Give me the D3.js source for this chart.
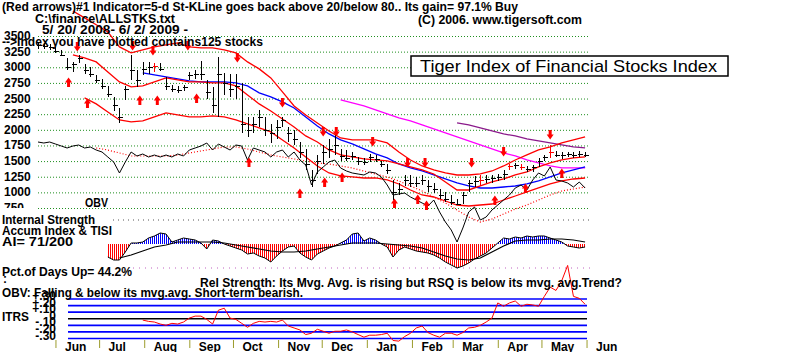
<!DOCTYPE html>
<html>
<head>
<meta charset="utf-8">
<script src="https://cdn.jsdelivr.net/npm/d3@7"></script>
<style>
body { margin: 0; background: #fff; }
svg { display: block; }
.lbl { font-family: "Liberation Sans", Arial, sans-serif; font-weight: bold; font-size: 12px; fill: #000; }
.ttl { font-family: "Liberation Sans", Arial, sans-serif; font-size: 17px; fill: #000; }
</style>
</head>
<body>
<script>
// chart runs 5/20/2008 - 6/2/2009, bars every 4 days, line samples every 8 days
var startDate = new Date(2008, 4, 20);
var endDate = new Date(2009, 5, 2);
var barStep = 4, lineStep = 8;

// price bars (high / low / close)
var highs = [3400,3390,3370,3330,3280,3150,3080,3200,3060,3000,
  2880,2820,2700,2530,2350,2700,3200,2960,3080,3090,
  3070,3070,2850,2720,2700,2720,2930,2960,3100,2800,
  2690,3160,2910,2900,2900,2750,2210,2200,2320,2200,
  2100,2150,2210,2050,2000,1800,1700,1350,1600,1750,
  1850,1950,1700,1680,1650,1560,1550,1620,1600,1500,
  1460,1200,1150,1280,1270,1250,1280,1200,1150,1050,
  1000,950,900,1000,1200,1260,1280,1270,1280,1300,
  1350,1460,1470,1450,1420,1440,1550,1600,1760,1660,
  1640,1650,1640,1660,1650];
var lows = [3300,3300,3280,3230,3180,2950,2930,3070,2900,2850,
  2750,2650,2530,2300,2110,2480,2800,2690,2880,2900,
  2930,2940,2640,2600,2590,2620,2800,2820,2800,2500,
  2270,2210,2550,2530,2500,1950,1890,1950,2050,1900,
  1790,1850,2050,1800,1750,1550,1350,1090,1300,1450,
  1550,1600,1500,1500,1520,1440,1430,1490,1480,1400,
  1300,880,950,1100,1090,1080,1120,1000,990,900,
  850,800,790,820,1000,1080,1100,1150,1150,1180,
  1200,1350,1380,1350,1320,1330,1400,1500,1550,1560,
  1540,1560,1550,1570,1560];
var closes = [3350,3340,3320,3260,3200,3000,3050,3150,2950,2900,
  2800,2700,2580,2400,2200,2650,2950,2800,2980,3000,
  3020,2980,2700,2650,2640,2680,2880,2900,2900,2600,
  2400,2900,2750,2650,2700,2100,2000,2100,2200,2000,
  1950,2050,2150,1950,1850,1650,1450,1200,1500,1650,
  1700,1750,1580,1550,1580,1500,1480,1560,1540,1450,
  1350,1000,1050,1200,1150,1150,1200,1100,1050,950,
  900,850,820,950,1150,1180,1200,1220,1230,1250,
  1300,1420,1430,1400,1370,1400,1500,1560,1650,1600,
  1590,1610,1600,1620,1600];
var redBars = [20, 76, 81, 83, 88];

// signal arrows: day offset from start, price level of arrow
var sellDays = [27, 65, 79, 103, 137, 168, 196, 205, 230, 254, 266, 298, 320, 352];
var sellLevels = [3326, 3342, 3262, 3342, 3150, 2430, 1966, 1966, 1806, 1470, 1470, 1470, 1646, 1918];
var buyDays = [21, 34, 70, 82, 109, 145, 180, 197, 209, 245, 261, 267, 314, 335, 360];
var buyLevels = [2766, 2430, 2478, 2478, 2510, 1486, 990, 1166, 1246, 830, 894, 798, 878, 1070, 1310];

// bands and moving averages (8-day samples, first sample index given)
var upperStart = 3;
var upperBand = [3900,3790,3680,3566,3326,3230,3278,3326,3358,3390,3326,3310,3310,3278,3230,3086,2974,2830,2606,2382,2238,2110,1982,1870,1838,1838,1838,1790,1646,1518,1422,1358,1310,1278,1278,1294,1342,1422,1518,1598,1678,1726,1790,1838,1886];
var midStart = 3;
var midBand = [3198,3150,3086,2926,2766,2686,2702,2766,2830,2798,2766,2766,2750,2750,2702,2558,2414,2302,2174,2046,1902,1806,1678,1598,1566,1534,1518,1502,1454,1406,1358,1294,1166,1038,1038,1102,1166,1214,1278,1326,1406,1470,1518,1550,1566];
var lowerStart = 4;
var lowerBand = [2510,2414,2286,2158,2126,2142,2206,2270,2238,2206,2206,2222,2206,2158,2094,2030,1966,1838,1710,1566,1422,1310,1262,1246,1230,1230,1198,1134,1038,958,926,862,798,782,798,814,878,942,1006,1070,1134,1182,1214,1230];
var blueStart = 9;
var blueMa = [2910,2878,2846,2814,2782,2766,2766,2766,2750,2702,2590,2526,2446,2350,2206,2062,1934,1838,1774,1694,1614,1550,1454,1390,1342,1278,1214,1150,1102,1070,1070,1086,1102,1134,1182,1246,1310,1358,1406];
var magentaStart = 26;
var magentaMa = [2478,2430,2382,2318,2254,2190,2142,2078,2014,1950,1886,1822,1758,1694,1630,1582,1518,1470,1422,1390,1390,1390];
var purpleStart = 36;
var purpleMa = [2110,2078,2030,1982,1934,1902,1854,1822,1790,1758,1726,1710];

// OBV (own scale, one value per bar) and its moving average
var obv = [103,102,103,101,99,97,99,100,97,98,
  95,93,88,83,72,83,93,89,91,88,
  90,88,90,88,91,89,95,97,99,102,
  95,101,98,95,100,99,85,97,95,93,
  88,93,95,88,93,85,80,60,73,78,
  83,85,77,74,72,71,70,73,72,68,
  60,50,51,52,48,45,42,39,45,33,
  23,15,3,17,33,38,25,28,35,40,
  45,50,57,60,55,65,72,69,78,65,
  64,62,58,63,57];
var obvMaStart = 5;
var obvMa = [97,95,92,89,89,89,89,90,92,94,96,98,98,96,93,90,88,86,84,82,81,79,77,74,71,68,64,59,54,48,42,35,28,23,26,31,36,40,45,50,54,56,58];

// Accumulation index (per bar from bar 12) and its average (8-day samples)
var aiStart = 12;
var aiVals = [-13,-16,-16,-8,1,1,2,6,8,11,
  10,2,4,6,5,4,1,-5,4,3,
  0,-2,-4,-6,-10,-9,-12,-14,-18,-12,
  -7,-3,-2,-9,-13,-16,-10,-7,-4,-2,
  1,4,10,11,3,6,4,0,-3,-13,
  -6,-3,-5,-7,-8,-9,-11,-14,-18,-21,
  -24,-22,-19,-15,-12,-9,-4,1,6,5,
  7,6,8,7,8,8,6,4,2,-2,
  -3,-4,-3];
var aiMaStart = 7;
var aiMa = [-14,-11,-7,-3,-1,2,2,2,2,1,-1,-3,-5,-7,-8,-8,-7,-5,-3,-1,1,1,1,0,-1,-2,-4,-8,-12,-15,-16,-14,-8,-2,3,4,4,5,5,4,2];

// ITRS relative strength (per bar from bar 18)
var itrsStart = 18;
var itrs = [-0.02,-0.04,-0.05,-0.08,-0.10,-0.07,-0.08,-0.05,0.01,0.04,
  0.04,-0.01,-0.08,0.13,0.16,0.01,-0.01,-0.07,-0.13,-0.07,
  -0.04,-0.05,-0.04,-0.05,-0.02,-0.11,-0.14,-0.17,-0.24,-0.22,
  -0.16,-0.19,-0.22,-0.19,-0.19,-0.17,-0.20,-0.24,-0.28,-0.25,
  -0.25,-0.24,-0.22,-0.33,-0.34,-0.27,-0.22,-0.14,-0.11,-0.21,
  -0.25,-0.28,-0.22,-0.22,-0.25,-0.21,-0.14,-0.13,-0.10,-0.05,
  0.01,0.24,0.19,0.24,0.27,0.19,0.22,0.21,0.19,0.34,
  0.48,0.43,0.58,0.81,0.34,0.31,0.22];

// tick labels
var priceLevels = [3500,3250,3000,2750,2500,2250,2000,1750,1500,1250,1000,750];
var itrsLevels = [0.3,0.2,0.1,0,-0.1,-0.2,-0.3];
var itrsLabels = ["+.30","+.20","+.10","0","-.10","-.20","-.30"];

// scales
var x = d3.scaleTime().domain([startDate, endDate]).range([38, 588]);
var yP = d3.scaleLinear().domain([750, 3500]).range([208, 36]);
var yObv = d3.scaleLinear().domain([0, 110]).range([245, 135]);
var yAi = d3.scaleLinear().domain([-30, 20]).range([274, 224]);
var yRs = d3.scaleLinear().domain([-0.3, 0.3]).range([338.5, 299]);

function barDate(i) { return d3.timeDay.offset(startDate, i * barStep); }
function barPts(vals, start) {
  return vals.map(function(v, j) { return {d: barDate(start + j), v: v}; });
}
function linePts(vals, start) {
  return vals.map(function(v, j) { return {d: d3.timeDay.offset(startDate, (start + j) * lineStep), v: v}; });
}

var svg = d3.select("body").append("svg").attr("width", 800).attr("height", 352);
svg.append("rect").attr("width", 800).attr("height", 352).attr("fill", "#fff");

var defs = svg.append("defs");
function stripes(id, col) {
  var p = defs.append("pattern").attr("id", id).attr("patternUnits", "userSpaceOnUse")
    .attr("width", 2).attr("height", 4);
  p.append("rect").attr("width", 1).attr("height", 4).attr("fill", col);
}
stripes("blueStripes", "#0000ff");
stripes("redStripes", "#ff0000");
defs.append("clipPath").attr("id", "aiUp").append("rect")
  .attr("x", 0).attr("y", 0).attr("width", 800).attr("height", yAi(0));
defs.append("clipPath").attr("id", "aiDown").append("rect")
  .attr("x", 0).attr("y", yAi(0)).attr("width", 800).attr("height", 352 - yAi(0));
defs.append("clipPath").attr("id", "priceCut").append("rect")
  .attr("x", 0).attr("y", 0).attr("width", 800).attr("height", 208);

// price grid (dotted green)
var grid = svg.append("g").attr("transform", "translate(38,0)")
  .call(d3.axisRight(yP).tickValues(priceLevels).tickSize(550).tickFormat(""));
grid.select(".domain").remove();
grid.selectAll("line").attr("stroke", "#1f8f1f").attr("stroke-dasharray", "1,2");

svg.selectAll(".plabel").data(priceLevels).enter().append("text")
  .attr("class", "lbl").attr("x", 4).attr("y", function(d) { return yP(d) + 4; })
  .attr("clip-path", "url(#priceCut)")
  .text(function(d) { return d; });

// separator dotted lines
svg.append("line").attr("x1", 113).attr("x2", 590).attr("y1", 220).attr("y2", 220)
  .attr("stroke", "#555").attr("stroke-dasharray", "1,4");
svg.append("line").attr("x1", 133).attr("x2", 590).attr("y1", 268).attr("y2", 268)
  .attr("stroke", "#c060c0").attr("stroke-dasharray", "1,5");

function drawLine(pts, yScale, color, width, dash) {
  svg.append("path").datum(pts)
    .attr("fill", "none").attr("stroke", color).attr("stroke-width", width)
    .attr("stroke-dasharray", dash || null)
    .attr("d", d3.line().x(function(d) { return x(d.d); }).y(function(d) { return yScale(d.v); }));
}

// bands, averages, OBV
drawLine(linePts(purpleMa, purpleStart), yP, "#8b1a8b", 1.3);
drawLine(linePts(magentaMa, magentaStart), yP, "#ff00ff", 1.3);
drawLine(linePts(blueMa, blueStart), yP, "#0000ff", 1.3);
drawLine(linePts(upperBand, upperStart), yP, "#ff0000", 1.3);
drawLine(linePts(midBand, midStart), yP, "#ff0000", 1.3);
drawLine(linePts(lowerBand, lowerStart), yP, "#ff0000", 1.3);
drawLine(linePts(obvMa, obvMaStart), yObv, "#ff0000", 1.2, "1,2");
drawLine(barPts(obv, 0), yObv, "#000", 1);

// price bars
var bars = svg.append("g").attr("shape-rendering", "crispEdges");
closes.forEach(function(c, i) {
  var bx = Math.round(x(barDate(i))) + 0.5;
  var col = redBars.indexOf(i) >= 0 ? "#ff0000" : "#000";
  bars.append("line").attr("x1", bx).attr("x2", bx)
    .attr("y1", yP(highs[i])).attr("y2", yP(lows[i])).attr("stroke", col);
  bars.append("line").attr("x1", bx - 2).attr("x2", bx + 3)
    .attr("y1", Math.round(yP(c)) + 0.5).attr("y2", Math.round(yP(c)) + 0.5).attr("stroke", col);
});

// arrows
function arrow(cx, cy, down) {
  var s = down ? 1 : -1;
  var p = "M" + (cx - 1.5) + "," + (cy - 5 * s) + "L" + (cx + 1.5) + "," + (cy - 5 * s) +
    "L" + (cx + 1.5) + "," + (cy - 0.5 * s) + "L" + (cx + 3.5) + "," + (cy - 0.5 * s) +
    "L" + cx + "," + (cy + 4.5 * s) + "L" + (cx - 3.5) + "," + (cy - 0.5 * s) +
    "L" + (cx - 1.5) + "," + (cy - 0.5 * s) + "Z";
  svg.append("path").attr("d", p).attr("fill", "#ff0000");
}
sellDays.forEach(function(d, j) { arrow(x(d3.timeDay.offset(startDate, d)), yP(sellLevels[j]), true); });
buyDays.forEach(function(d, j) { arrow(x(d3.timeDay.offset(startDate, d)), yP(buyLevels[j]), false); });

// accumulation index histogram
var aiPts = barPts(aiVals, aiStart);
var aiArea = d3.area().x(function(d) { return x(d.d); }).y0(yAi(0)).y1(function(d) { return yAi(d.v); });
svg.append("path").datum(aiPts).attr("d", aiArea).attr("fill", "url(#blueStripes)").attr("clip-path", "url(#aiUp)");
svg.append("path").datum(aiPts).attr("d", aiArea).attr("fill", "url(#redStripes)").attr("clip-path", "url(#aiDown)");
drawLine(aiPts, yAi, "#000", 1);
drawLine(linePts(aiMa, aiMaStart), yAi, "#000", 1.2);

// ITRS panel
svg.selectAll(".rsline").data(itrsLevels).enter().append("line")
  .attr("x1", 68).attr("x2", 587)
  .attr("y1", function(d) { return yRs(d); }).attr("y2", function(d) { return yRs(d); })
  .attr("stroke", function(d) { return d === 0 ? "#000" : "#0000ff"; })
  .attr("stroke-width", 1.6);
svg.selectAll(".rslabel").data(itrsLevels).enter().append("text")
  .attr("class", "lbl").attr("text-anchor", "end").attr("x", 56)
  .attr("y", function(d) { return yRs(d) + 1; })
  .text(function(d, i) { return itrsLabels[i]; });
drawLine(barPts(itrs, itrsStart), yRs, "#ff0000", 1);

// month axis
var xAxis = svg.append("g").attr("transform", "translate(0,340)")
  .call(d3.axisBottom(x).ticks(d3.timeMonth.every(1)).tickSize(8).tickFormat(d3.timeFormat("%b")));
xAxis.select(".domain").remove();
xAxis.selectAll("line").attr("stroke", "#9c9c2c");
xAxis.selectAll("text").attr("class", "lbl").attr("text-anchor", "start")
  .attr("x", 9).attr("y", 11).attr("dy", 0);

// texts
function txt(s, tx, ty, len) {
  var t = svg.append("text").attr("class", "lbl").attr("x", tx).attr("y", ty).text(s);
  if (len) t.attr("textLength", len).attr("lengthAdjust", "spacingAndGlyphs");
  return t;
}
txt("(Red arrows)#1 Indicator=5-d St-KLine goes back above 20/below 80..  Its gain= 97.1% Buy", 2, 11, 516);
txt("C:\\finance\\ALLSTKS.txt", 35, 23, 140);
txt("5/ 20/ 2008- 6/ 2/ 2009 -", 42, 34, 146);
txt("(C) 2006.  www.tigersoft.com", 418, 24, 164);
txt("-->Index you have plotted contains125 stocks", 2, 46, 261);
txt("OBV", 85, 207, 23);
txt("Internal Strength", 2, 224, 93);
txt("Accum Index & TISI", 2, 235, 110);
txt("AI= 71/200", 2, 246, 71);
txt("Pct.of Days Up= 44.2%", 2, 276, 130);
txt(":", 3, 283);
txt("Rel Strength: Its Mvg. Avg. is rising but RSQ is below its mvg. avg.Trend?", 200, 287, 422);
txt("OBV: Falling & below its mvg.avg.  Short-term bearish.", 2, 297, 301);
txt("ITRS", 2, 321, 27);

// title box
svg.append("rect").attr("x", 411).attr("y", 56).attr("width", 317).attr("height", 20)
  .attr("fill", "#fff").attr("stroke", "#000").attr("stroke-width", 1.5);
svg.append("text").attr("class", "ttl").attr("x", 420).attr("y", 72)
  .attr("textLength", 297).attr("lengthAdjust", "spacingAndGlyphs")
  .text("Tiger Index of Financial Stocks Index");
</script>
</body>
</html>
